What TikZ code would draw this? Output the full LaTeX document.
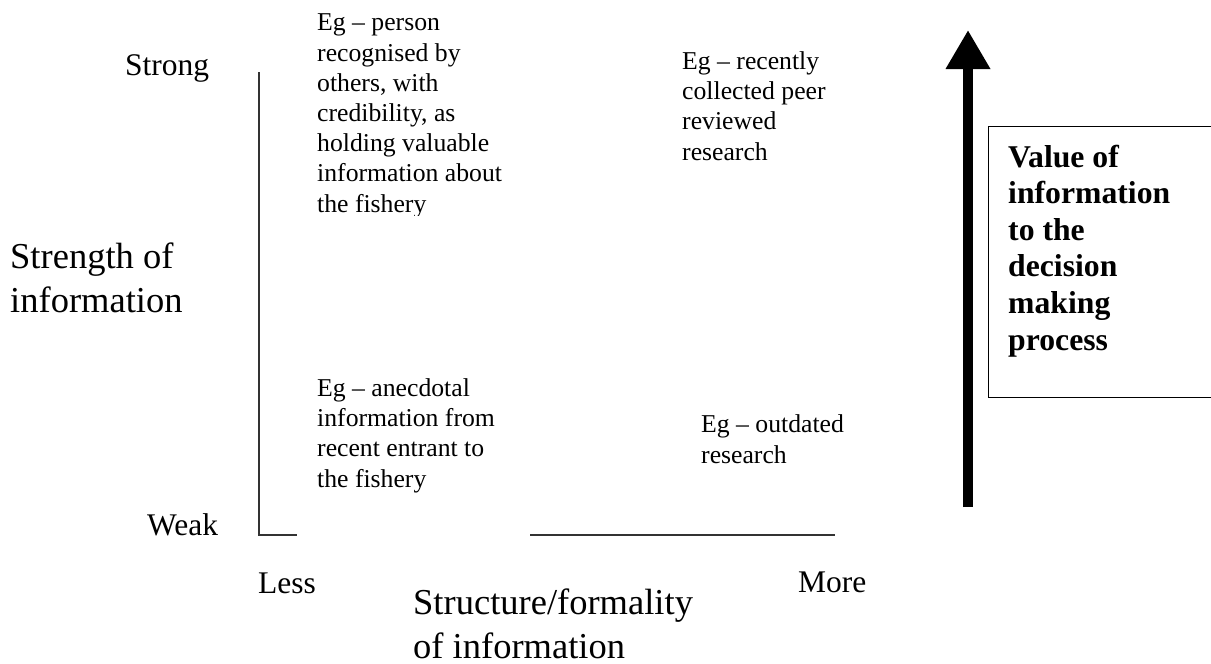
\documentclass[tikz,border=0pt]{standalone}
\usepackage{fontspec}
\setmainfont{Liberation Serif}
\usetikzlibrary{arrows.meta}

\begin{document}
\begin{tikzpicture}[x=1pt,y=-1pt,
  note/.style={anchor=base west,inner sep=0pt,align=left,font=\fontsize{25.7}{30.2}\selectfont},
  tick/.style={anchor=base west,inner sep=0pt,font=\fontsize{31.5}{36.7}\selectfont},
  title/.style={anchor=base west,inner sep=0pt,align=left,font=\fontsize{36.5}{44}\selectfont},
  axis/.style={line width=1.2pt,black!80}]
  \useasboundingbox (0,0) rectangle (1211,664);

  % axes
  \coordinate (top) at (259,72);
  \coordinate (origin) at (259,535);
  \coordinate (tickend) at (297,535);
  \coordinate (xleft) at (530,535);
  \coordinate (xright) at (835,535);
  \draw[axis] (top) -- (origin) -- (tickend);
  \draw[axis] (xleft) -- (xright);

  \node[tick] (strong) at (125,75) {Strong};
  \node[tick] (weak) at (147,535) {Weak};
  \node[tick] (less) at (258,593) {Less};
  \node[tick] (more) at (798,592) {More};
  % base anchor of a multi-line node = last line
  \node[title] (yname) at (10,312) {Strength of\\information};
  \node[title] (xname) at (413,658) {Structure/formality\\of information};

  % examples
  \begin{scope}
    \clip (0,0) rectangle (1211,215);
    \node[note] (person) at (317,212) {Eg – person\\recognised by\\others, with\\credibility, as\\holding valuable\\information about\\the fishery};
  \end{scope}
  \node[note] (peer) at (682,160) {Eg – recently\\collected peer\\reviewed\\research};
  \node[note] (anecdote) at (317,487) {Eg – anecdotal\\information from\\recent entrant to\\the fishery};
  \node[note] (outdated) at (701,463) {Eg – outdated\\research};

  % value arrow
  \coordinate (vbot) at (968,507);
  \coordinate (vtop) at (968,30);
  \draw[line width=10pt,-{Triangle[length=39pt,width=42pt]}] (vbot) -- (vtop);
  \node[draw,line width=1pt,anchor=north west,minimum width=242pt,minimum height=271pt,inner sep=0pt] (valuebox) at (988,126) {};
  \node[anchor=base west,inner sep=0pt,align=left,font=\fontsize{31.7}{36.6}\selectfont\bfseries] (value) at (1008,350) {Value of\\information\\to the\\decision\\making\\process};
\end{tikzpicture}
\end{document}
